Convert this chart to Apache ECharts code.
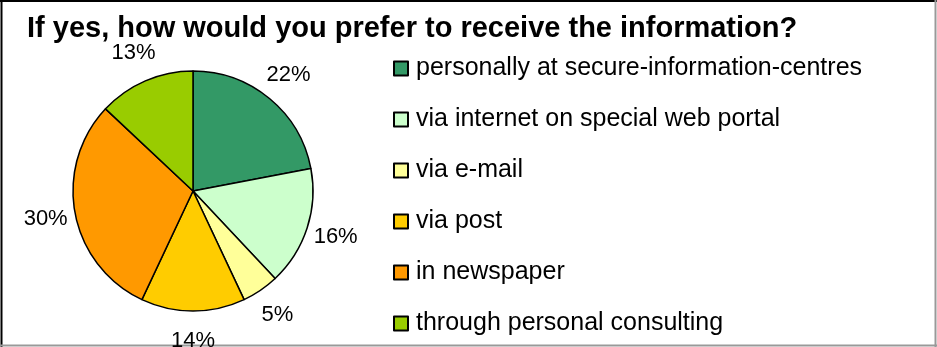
<!DOCTYPE html>
<html><head><meta charset="utf-8">
<script src="https://cdn.jsdelivr.net/npm/echarts@6/dist/echarts.min.js"></script>
<style>html,body{margin:0;padding:0;background:#fff}#c{width:937px;height:347px}</style>
</head><body><div id="c"></div>
<script>
const titleText = 'If yes, how would you prefer to receive the information?';
const categories = ['personally at secure-information-centres','via internet on special web portal','via e-mail','via post','in newspaper','through personal consulting'];
const values = [22,16,5,14,30,13];
const colors = ['#339966','#CCFFCC','#FFFF99','#FFCC00','#FF9900','#99CC00'];

const chart = echarts.init(document.getElementById('c'), null, {renderer:'canvas'});
const font = 'Liberation Sans, Arial, sans-serif';
chart.setOption({
  animation:false,
  title:{text:titleText,left:22,top:9,textStyle:{fontFamily:font,fontWeight:'bold',fontSize:29,color:'#000'}},
  legend:{orient:'vertical',left:393,top:56,padding:0,itemWidth:14,itemHeight:14,itemGap:26,icon:'rect',
    data:categories,selectedMode:false,
    textStyle:{fontFamily:font,fontSize:25,color:'#000',padding:[0,0,0,3]}},
  graphic:[
    {type:'line',shape:{x1:0,y1:1,x2:937,y2:1},style:{stroke:'#000',lineWidth:2}},
    {type:'line',shape:{x1:1.5,y1:0,x2:1.5,y2:347},style:{stroke:'#000',lineWidth:2}},
    {type:'line',shape:{x1:935.5,y1:0,x2:935.5,y2:347},style:{stroke:'#999',lineWidth:2}},
    {type:'line',shape:{x1:0,y1:345.5,x2:937,y2:345.5},style:{stroke:'#999',lineWidth:2}}
  ],
  series:[
    {type:'pie',center:[193,191],radius:120,startAngle:90,clockwise:true,silent:true,
     label:{show:false},labelLine:{show:false},
     itemStyle:{borderColor:'#000',borderWidth:1.5},
     data:categories.map((n,i)=>({name:n,value:values[i],itemStyle:{color:colors[i]}}))},
    {type:'pie',center:[193,191],radius:[137,157],startAngle:90,clockwise:true,silent:true,
     legendHoverLink:false,
     itemStyle:{color:'rgba(0,0,0,0)',borderWidth:0},
     label:{show:true,position:'inside',formatter:'{c}%',fontFamily:font,fontSize:22,color:'#000'},
     labelLine:{show:false},
     data:categories.map((n,i)=>({name:'_'+n,value:values[i]}))}
  ]
});
</script></body></html>
